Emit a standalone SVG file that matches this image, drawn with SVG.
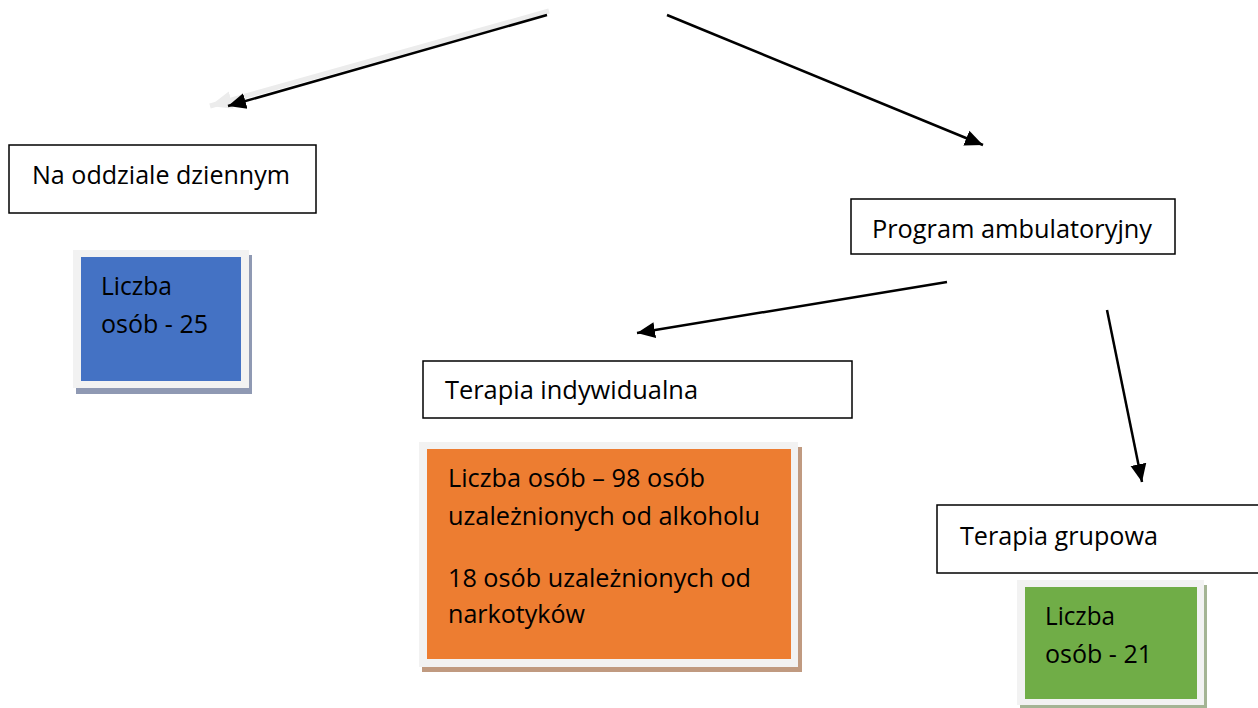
<svg xmlns="http://www.w3.org/2000/svg" width="1258" height="708" viewBox="0 0 1258 708">
<defs>
<style>
.lbl{fill:#fff;stroke:#000;stroke-width:1.5}
.t{font-family:"Open Sans",Lato,"Liberation Sans",sans-serif;font-size:25.5px;fill:#000}
.frame{fill:#f2f2f2}
.con{stroke:#000;stroke-width:2.5;fill:none}
</style>
<marker id="ah" markerUnits="userSpaceOnUse" markerWidth="20" markerHeight="18" viewBox="0 0 20 18" refX="18" refY="9" orient="auto">
<path d="M0,1 L18,9 L0,17 Z" fill="#000"/>
</marker>
<marker id="ahg" markerUnits="userSpaceOnUse" markerWidth="24" markerHeight="20" viewBox="0 0 24 20" refX="22" refY="10" orient="auto">
<path d="M0,1 L22,10 L0,19 Z" fill="#ececec"/>
</marker>
</defs>
<g id="connectors">
<line x1="549" y1="11" x2="210" y2="106" stroke="#ececec" stroke-width="5" marker-end="url(#ahg)"/>
<line class="con" x1="547" y1="15" x2="228" y2="106" marker-end="url(#ah)"/>
<line class="con" x1="667" y1="15" x2="983" y2="145" marker-end="url(#ah)"/>
<line class="con" x1="947" y1="282" x2="637" y2="333" marker-end="url(#ah)"/>
<line class="con" x1="1107" y1="310" x2="1142" y2="482" marker-end="url(#ah)"/>
</g>
<g id="n-dzienny">
<rect class="lbl" x="9" y="145" width="307" height="68"/>
<text class="t" x="32" y="184" textLength="258" lengthAdjust="spacingAndGlyphs">Na oddziale dziennym</text>
</g>
<g id="n-dzienny-liczba">
<rect x="76" y="255" width="176" height="139" fill="#8f99b3"/>
<rect class="frame" x="73" y="250" width="176" height="138"/>
<rect x="81" y="257" width="160" height="124" fill="#4472c4"/>
<text class="t" x="101" y="295" textLength="71" lengthAdjust="spacingAndGlyphs">Liczba</text>
<text class="t" x="101" y="333" textLength="107" lengthAdjust="spacingAndGlyphs">osób - 25</text>
</g>
<g id="n-ambulatoryjny">
<rect class="lbl" x="851" y="199" width="324" height="55"/>
<text class="t" x="872" y="238" textLength="280" lengthAdjust="spacingAndGlyphs">Program ambulatoryjny</text>
</g>
<g id="n-indywidualna">
<rect class="lbl" x="423" y="361" width="429" height="57"/>
<text class="t" x="445" y="399" textLength="253" lengthAdjust="spacingAndGlyphs">Terapia indywidualna</text>
</g>
<g id="n-indywidualna-liczba">
<rect x="422" y="447" width="380" height="225" fill="#c09a80"/>
<rect class="frame" x="419" y="442" width="379" height="225"/>
<rect x="427" y="449" width="364" height="210" fill="#ed7d31"/>
<text class="t" x="448" y="487" textLength="257" lengthAdjust="spacingAndGlyphs">Liczba osób – 98 osób</text>
<text class="t" x="448" y="525" textLength="312" lengthAdjust="spacingAndGlyphs">uzależnionych od alkoholu</text>
<text class="t" x="448" y="587" textLength="303" lengthAdjust="spacingAndGlyphs">18 osób uzależnionych od</text>
<text class="t" x="448" y="623" textLength="137" lengthAdjust="spacingAndGlyphs">narkotyków</text>
</g>
<g id="n-grupowa">
<rect class="lbl" x="937" y="505" width="330" height="68"/>
<text class="t" x="960" y="545" textLength="198" lengthAdjust="spacingAndGlyphs">Terapia grupowa</text>
</g>
<g id="n-grupowa-liczba">
<rect x="1020" y="585" width="187" height="130" fill="#a4b494"/>
<rect class="frame" x="1017" y="580" width="187" height="125"/>
<rect x="1025" y="587" width="172" height="112" fill="#70ad47"/>
<text class="t" x="1045" y="625" textLength="70" lengthAdjust="spacingAndGlyphs">Liczba</text>
<text class="t" x="1045" y="663" textLength="107" lengthAdjust="spacingAndGlyphs">osób - 21</text>
</g>
</svg>
